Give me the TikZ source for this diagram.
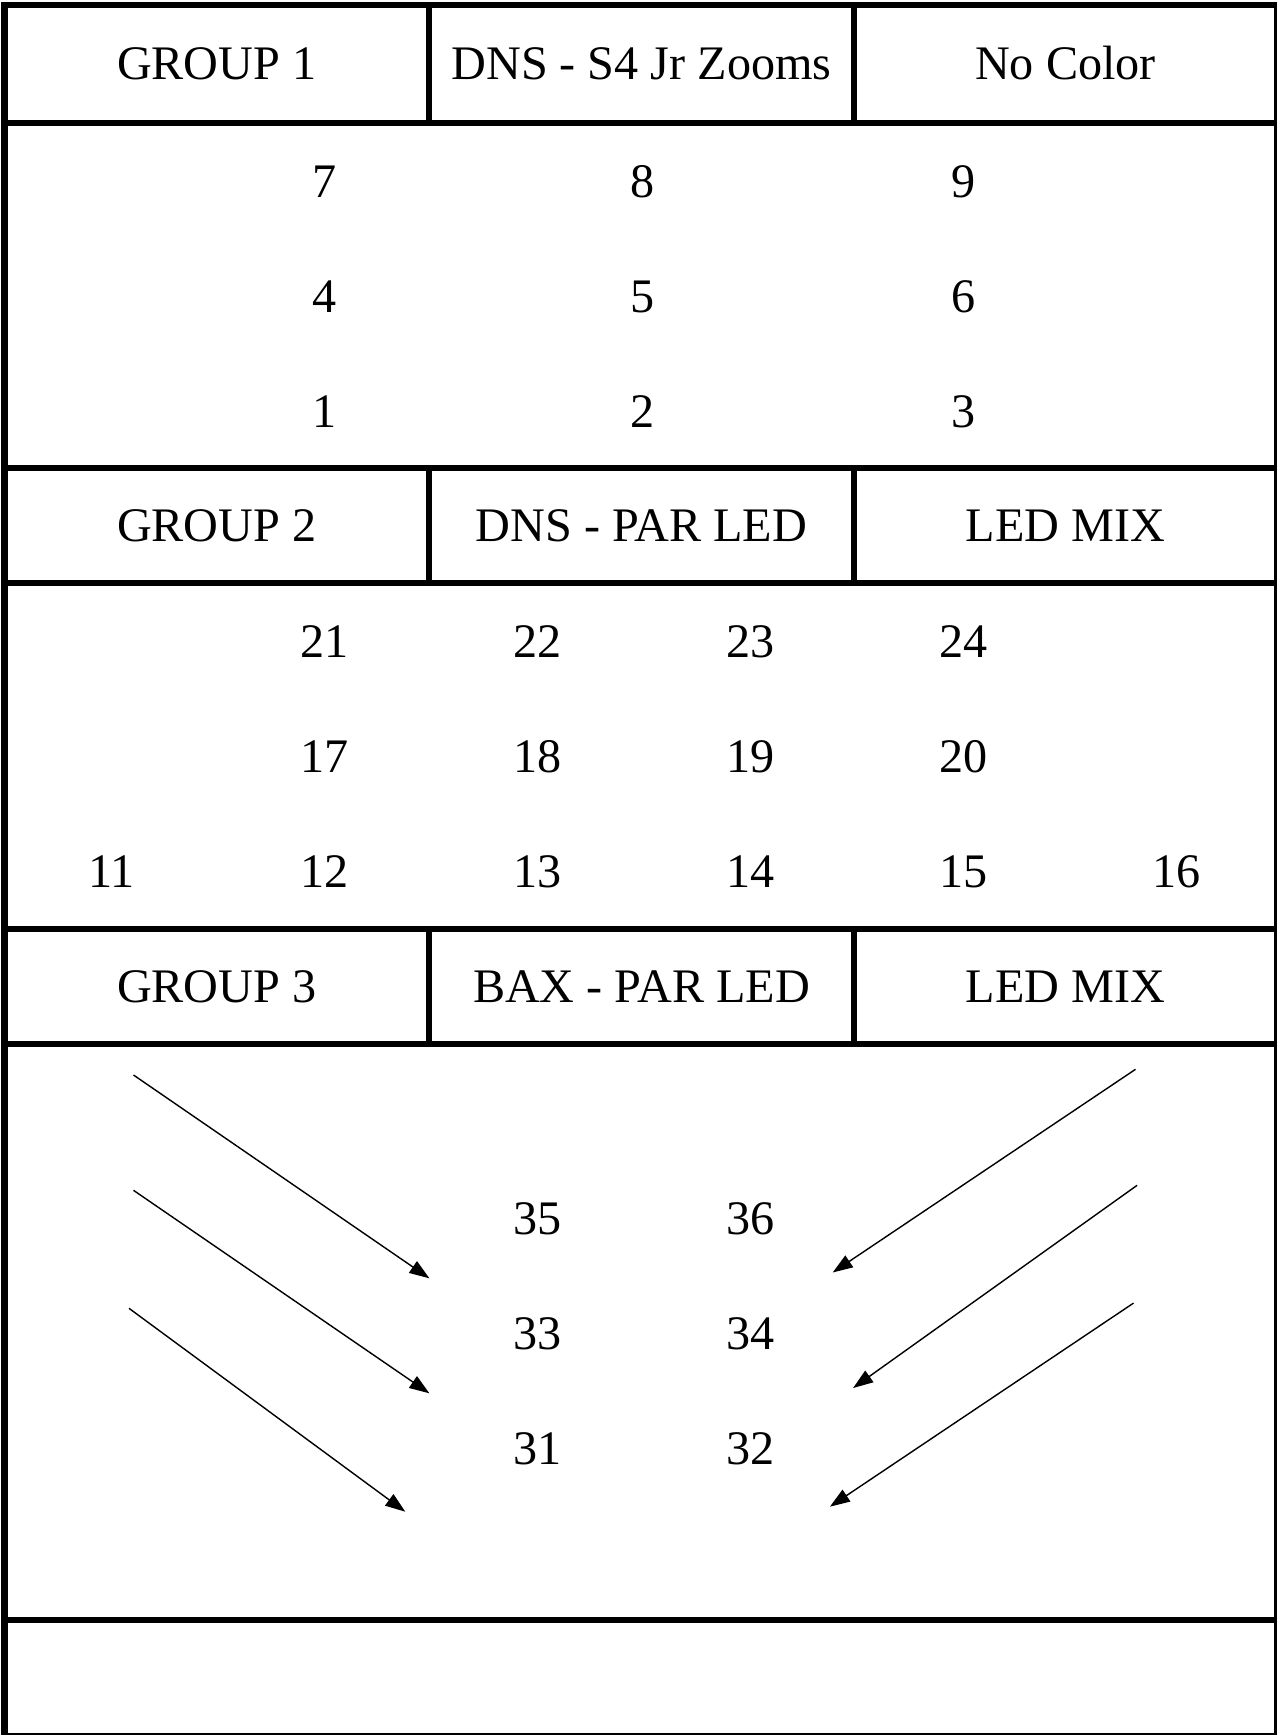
\documentclass[tikz,border=0pt]{standalone}
\usepackage{fontspec}
\setmainfont{Liberation Serif}
\usetikzlibrary{arrows.meta}

\tikzset{
  rule/.style={line width=1.75pt},
  head/.style={anchor=base,font=\fontsize{13.7pt}{16pt}\selectfont},
  num/.style={font=\fontsize{13.7pt}{16pt}\selectfont},
  pointer/.style={line width=0.4pt,-{Triangle[length=2mm,width=1.4mm]}}
}

\begin{document}
\begin{tikzpicture}[x=0.01cm,y=-0.01cm]
    \useasboundingbox (0,0) rectangle (1277,1735);
    \draw[rule] (4.5,5) rectangle (1277.5,1736);
    \draw[rule] (4.5,123)--(1277.5,123);
    \draw[rule] (4.5,468)--(1277.5,468);
    \draw[rule] (4.5,583)--(1277.5,583);
    \draw[rule] (4.5,929)--(1277.5,929);
    \draw[rule] (4.5,1044)--(1277.5,1044);
    \draw[rule] (4.5,1620)--(1277.5,1620);
    \draw[rule] (429,5)--(429,123);
    \draw[rule] (854,5)--(854,123);
    \draw[rule] (429,468)--(429,583);
    \draw[rule] (854,468)--(854,583);
    \draw[rule] (429,929)--(429,1044);
    \draw[rule] (854,929)--(854,1044);

    \node[head] (grp1) at (216.8,79.9) {GROUP 1};
    \node[head] (type1) at (641.5,79.9) {DNS - S4 Jr Zooms};
    \node[head] (col1) at (1065.5,79.9) {No Color};
    \node[num] (n7) at (324.6,181.5) {7};
    \node[num] (n8) at (643,181.5) {8};
    \node[num] (n9) at (963.3,181.5) {9};
    \node[num] (n4) at (324.6,296.6) {4};
    \node[num] (n5) at (643,296.6) {5};
    \node[num] (n6) at (963.3,296.6) {6};
    \node[num] (n1) at (324.6,411.7) {1};
    \node[num] (n2) at (643,411.7) {2};
    \node[num] (n3) at (963.3,411.7) {3};

    \node[head] (grp2) at (216.8,541.4) {GROUP 2};
    \node[head] (type2) at (641.5,541.4) {DNS - PAR LED};
    \node[head] (col2) at (1065.5,541.4) {LED MIX};
    \node[num] (n21) at (324.6,641.5) {21};
    \node[num] (n22) at (537.5,641.5) {22};
    \node[num] (n23) at (750.4,641.5) {23};
    \node[num] (n24) at (963.3,641.5) {24};
    \node[num] (n17) at (324.6,756.6) {17};
    \node[num] (n18) at (537.5,756.6) {18};
    \node[num] (n19) at (750.4,756.6) {19};
    \node[num] (n20) at (963.3,756.6) {20};
    \node[num] (n11) at (111.7,871.7) {11};
    \node[num] (n12) at (324.6,871.7) {12};
    \node[num] (n13) at (537.5,871.7) {13};
    \node[num] (n14) at (750.4,871.7) {14};
    \node[num] (n15) at (963.3,871.7) {15};
    \node[num] (n16) at (1176.2,871.7) {16};

    \node[head] (grp3) at (216.8,1002.4) {GROUP 3};
    \node[head] (type3) at (641.5,1002.4) {BAX - PAR LED};
    \node[head] (col3) at (1065.5,1002.4) {LED MIX};
    \node[num] (n35) at (537.5,1218.4) {35};
    \node[num] (n36) at (750.4,1218.4) {36};
    \node[num] (n33) at (537.5,1333.4) {33};
    \node[num] (n34) at (750.4,1333.4) {34};
    \node[num] (n31) at (537.5,1448.4) {31};
    \node[num] (n32) at (750.4,1448.4) {32};

    \coordinate (l1from) at (133.5,1075);
    \coordinate (l1to) at (429.4,1278.3);
    \coordinate (l2from) at (133.5,1190.3);
    \coordinate (l2to) at (429.4,1393.3);
    \coordinate (l3from) at (129,1308.3);
    \coordinate (l3to) at (405.3,1511.7);
    \coordinate (r1from) at (1135.5,1069.3);
    \coordinate (r1to) at (832.7,1272.5);
    \coordinate (r2from) at (1137.1,1185.3);
    \coordinate (r2to) at (853.1,1388);
    \coordinate (r3from) at (1133.5,1303.1);
    \coordinate (r3to) at (829.9,1506.7);
    \draw[pointer] (l1from)--(l1to);
    \draw[pointer] (l2from)--(l2to);
    \draw[pointer] (l3from)--(l3to);
    \draw[pointer] (r1from)--(r1to);
    \draw[pointer] (r2from)--(r2to);
    \draw[pointer] (r3from)--(r3to);
  \end{tikzpicture}
\end{document}
